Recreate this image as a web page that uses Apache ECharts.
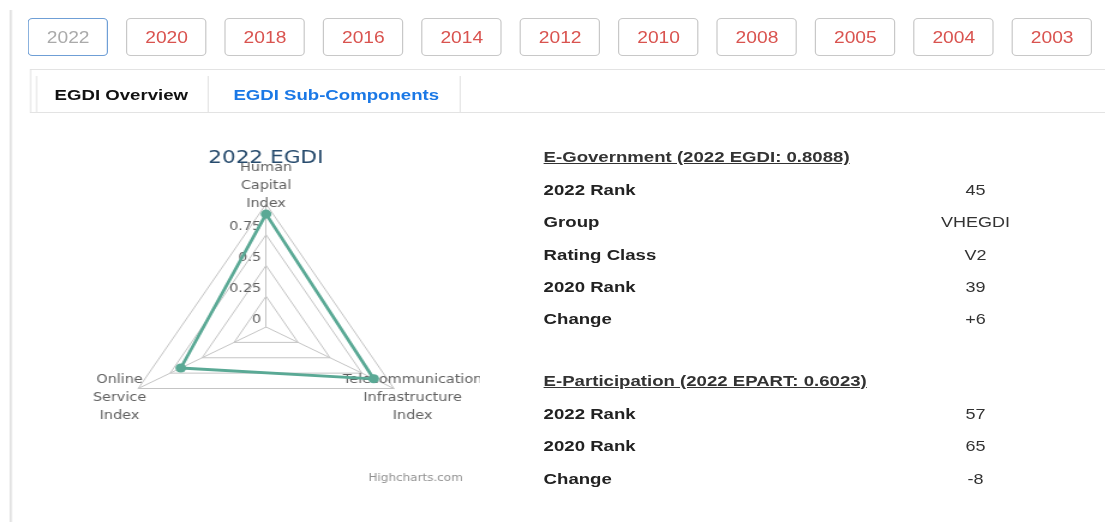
<!DOCTYPE html>
<html>
<head>
<meta charset="utf-8">
<title>2022 EGDI</title>
<script src="https://cdn.jsdelivr.net/npm/echarts@6/dist/echarts.min.js"></script>
<style>
  html, body { margin: 0; padding: 0; background: #fff; overflow: hidden; }
  #page {
    position: absolute; left: 0; top: 0; width: 921px; height: 522px;
    transform: scaleX(1.2); transform-origin: 0 0;
    font-family: "Liberation Sans", Arial, sans-serif;
  }
  .vline { position: absolute; background: #e3e3e3; }
  .hline { position: absolute; background: #e3e3e3; height: 1px; }
  .btn {
    position: absolute; top: 18px; width: 65px; height: 36px;
    border: 1px solid #c8c8c8; border-radius: 4px; box-sizing: content-box;
    color: #d9534f; font-size: 16px; line-height: 37px; text-align: center;
  }
  .btn.active { border-color: #6f9fd6; color: #aaa; }
  .tab { position: absolute; top: 76px; height: 36px; line-height: 38px; font-size: 15.5px; font-weight: bold; }
  .row { position: absolute; left: 453px; font-size: 15.5px; line-height: 20px; }
  .row b { color: #222; }
  .row span { position: absolute; left: 320px; width: 80px; text-align: center; color: #333; font-size: 15px; }
  .head { position: absolute; left: 453px; font-size: 15.5px; font-weight: bold; color: #333; text-decoration: underline; line-height: 20px; }
  #chart { position: absolute; left: 0; top: 130px; width: 400px; height: 370px; }
</style>
</head>
<body>
<div id="page">
  <div id="chart"></div>
</div>
<script>
// year buttons
const years = ['2022', '2020', '2018', '2016', '2014', '2012', '2010', '2008', '2005', '2004', '2003'];
const activeYear = '2022';
const tabs = ['EGDI Overview', 'EGDI Sub-Components'];

// radar data
const chartTitle = '2022 EGDI';
const indicatorNames = ['Human\nCapital\nIndex', 'Online\nService\nIndex', 'Telecommunication\nInfrastructure\nIndex'];
const egdiValues = [0.918, 0.667, 0.842];
const axisMax = 1;
const tickStep = 0.25;

// summary tables
const govTitle = 'E-Government (2022 EGDI: 0.8088)';
const govRows = [['2022 Rank', '45'], ['Group', 'VHEGDI'], ['Rating Class', 'V2'], ['2020 Rank', '39'], ['Change', '+6']];
const partTitle = 'E-Participation (2022 EPART: 0.6023)';
const partRows = [['2022 Rank', '57'], ['2020 Rank', '65'], ['Change', '-8']];

const page = document.getElementById('page');
function add(html) { page.insertAdjacentHTML('beforeend', html); }

// frame lines
add('<div class="vline" style="left:8px;top:10px;width:2px;height:512px"></div>');
add('<div class="hline" style="left:25px;top:69px;width:900px"></div>');
add('<div class="vline" style="left:25px;top:69px;width:1px;height:44px"></div>');
add('<div class="hline" style="left:25px;top:112px;width:900px"></div>');

years.forEach((y, i) => {
  add('<div class="btn' + (y === activeYear ? ' active' : '') + '" style="left:' + (23.3 + i * 82).toFixed(1) + 'px">' + y + '</div>');
});

// tabs
add('<div class="vline" style="left:30px;top:76px;width:1px;height:36px"></div>');
add('<div class="vline" style="left:173px;top:76px;width:1px;height:36px"></div>');
add('<div class="vline" style="left:383px;top:76px;width:1px;height:36px"></div>');
add('<div class="tab" style="left:45.5px;color:#111">' + tabs[0] + '</div>');
add('<div class="tab" style="left:194.5px;color:#1a78e6">' + tabs[1] + '</div>');

// tables
function table(title, rows, top) {
  add('<div class="head" style="top:' + (top - 10) + 'px">' + title + '</div>');
  rows.forEach((r, i) => {
    add('<div class="row" style="top:' + (top + 23 + i * 32.3) + 'px"><b>' + r[0] + '</b><span>' + r[1] + '</span></div>');
  });
}
table(govTitle, govRows, 157);
table(partTitle, partRows, 381);

const chart = echarts.init(document.getElementById('chart'));
chart.setOption({
  animation: false,
  title: [{
    text: chartTitle,
    left: 216.5,
    top: 14,
    textAlign: 'center',
    textStyle: { color: '#274b6d', fontSize: 18, fontWeight: 'normal', fontFamily: 'DejaVu Sans' }
  }, {
    text: 'Highcharts.com',
    left: 307,
    top: 343,
    padding: 0,
    textStyle: { color: '#909090', fontSize: 10, fontWeight: 'normal', fontFamily: 'DejaVu Sans' }
  }],
  radar: {
    center: [221.7, 197],
    radius: 123,
    startAngle: 90,
    shape: 'polygon',
    splitNumber: axisMax / tickStep,
    nameGap: 18,
    indicator: indicatorNames.map((n, i) => ({
      name: n, min: 0, max: axisMax,
      axisLabel: { show: i === 0 }
    })),
    axisName: {
      color: '#606060', fontSize: 12, fontFamily: 'DejaVu Sans', lineHeight: 18,
      align: 'center', verticalAlign: 'middle'
    },
    axisLine: { lineStyle: { color: '#c4c4c4', width: 1 } },
    splitLine: { lineStyle: { color: '#c4c4c4', width: 1 } },
    splitArea: { show: false },
    axisTick: { show: false },
    axisLabel: {
      show: false,
      margin: 4,
      lineHeight: 15,
      color: '#606060', fontSize: 12, fontFamily: 'DejaVu Sans',
      // trailing blank line lifts each label above its grid line
      formatter: v => (v >= axisMax ? '' : v + '\n ')
    }
  },
  series: [{
    type: 'radar',
    symbol: 'circle',
    symbolSize: 9,
    lineStyle: { color: '#5aa995', width: 2.8 },
    itemStyle: { color: '#5aa995' },
    data: [{ value: egdiValues, name: chartTitle }]
  }]
});
</script>
</body>
</html>
